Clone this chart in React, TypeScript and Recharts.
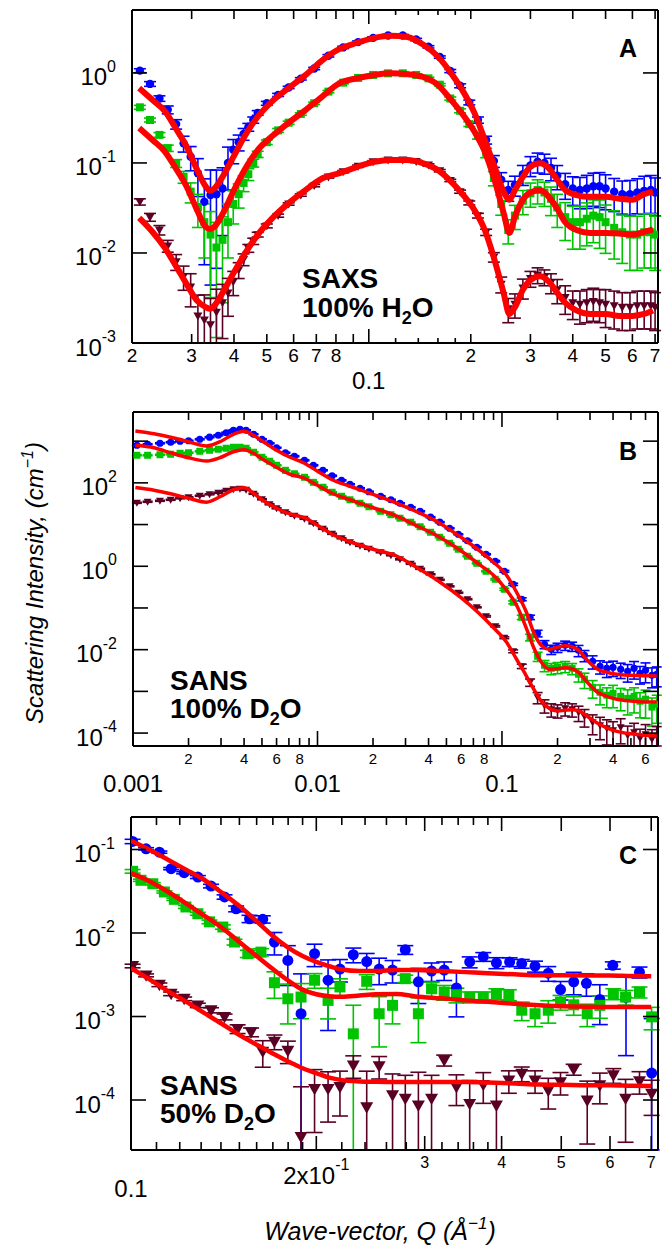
import React from 'react';
import { ComposedChart, Scatter, Line, XAxis, YAxis, ErrorBar } from 'recharts';

const BLUE = '#0000ff';
const GREEN = '#00c400';
const MAROON = '#5a0025';
const RED = '#ff0000';
const FONT = '"Liberation Sans", Arial, Helvetica, sans-serif';

// ---------- panel A : SAXS, 100% H2O ----------
const qA = [
    0.0211, 0.0226, 0.0241, 0.0255, 0.027, 0.0284, 0.0298, 0.0313, 0.0327, 0.0341,
    0.0355, 0.037, 0.0384, 0.0398, 0.0413, 0.0427, 0.0441, 0.0456, 0.047, 0.05,
    0.054, 0.058, 0.063, 0.069, 0.076, 0.084, 0.093, 0.103, 0.114, 0.126,
    0.138, 0.15, 0.162, 0.174, 0.186, 0.198, 0.21, 0.222, 0.234, 0.246,
    0.258, 0.27, 0.285, 0.3, 0.315, 0.33, 0.345, 0.36, 0.38, 0.4,
    0.42, 0.44, 0.46, 0.48, 0.5, 0.53, 0.56, 0.59, 0.62, 0.65, 0.68, 0.7,
];
const blueA = [
    1.06, 0.755, 0.52, 0.39, 0.27, 0.165, 0.117, 0.077, 0.037, 0.044,
    0.045, 0.052, 0.1, 0.14, 0.17, 0.21, 0.25, 0.3, 0.36, 0.46,
    0.57, 0.69, 0.86, 1.12, 1.55, 1.92, 2.2, 2.45, 2.6, 2.6,
    2.35, 1.95, 1.5, 1.05, 0.72, 0.47, 0.3, 0.18, 0.105, 0.065,
    0.05, 0.057, 0.075, 0.094, 0.103, 0.1, 0.088, 0.072, 0.058, 0.052,
    0.05, 0.052, 0.055, 0.055, 0.052, 0.048, 0.045, 0.045, 0.047, 0.049, 0.05, 0.047,
];
const blueErrA = [
    0.05, 0.06, 0.07, 0.1, 0.12, 0.2, 0.3, 0.45, 0.8, 0.9,
    0.85, 0.7, 0.5, 0.3, 0.2, 0.15, 0.1, 0.08, 0.06, 0.05,
    0.04, 0.03, 0.03, 0.03, 0.03, 0.03, 0.03, 0.03, 0.03, 0.03,
    0.03, 0.03, 0.03, 0.04, 0.05, 0.06, 0.08, 0.1, 0.15, 0.2,
    0.25, 0.25, 0.25, 0.25, 0.25, 0.25, 0.28, 0.3, 0.32, 0.35,
    0.38, 0.4, 0.4, 0.42, 0.42, 0.4, 0.4, 0.42, 0.42, 0.45, 0.45, 0.45,
];
const greenA = [
    0.415, 0.3, 0.205, 0.146, 0.099, 0.07, 0.048, 0.032, 0.022, 0.016,
    0.0115, 0.014, 0.022, 0.035, 0.045, 0.06, 0.075, 0.1, 0.125, 0.17,
    0.23, 0.28, 0.35, 0.46, 0.62, 0.78, 0.88, 0.95, 0.99, 0.99,
    0.95, 0.87, 0.74, 0.52, 0.38, 0.27, 0.2, 0.13, 0.068, 0.035,
    0.018, 0.026, 0.038, 0.046, 0.05, 0.047, 0.04, 0.032, 0.025, 0.022,
    0.022, 0.024, 0.026, 0.025, 0.022, 0.019, 0.017, 0.016, 0.016, 0.017, 0.017, 0.016,
];
const greenErrA = [
    0.05, 0.05, 0.06, 0.08, 0.1, 0.15, 0.25, 0.4, 0.6, 0.8,
    0.9, 0.8, 0.6, 0.4, 0.3, 0.2, 0.15, 0.1, 0.08, 0.06,
    0.05, 0.04, 0.03, 0.03, 0.03, 0.03, 0.03, 0.03, 0.03, 0.03,
    0.03, 0.03, 0.03, 0.04, 0.05, 0.06, 0.08, 0.12, 0.18, 0.25,
    0.3, 0.3, 0.3, 0.3, 0.3, 0.3, 0.35, 0.4, 0.45, 0.5,
    0.5, 0.5, 0.5, 0.55, 0.55, 0.55, 0.55, 0.6, 0.6, 0.6, 0.6, 0.6,
];
const maroonA = [
    0.037, 0.025, 0.018, 0.012, 0.008, 0.0055, 0.0042, 0.002, 0.0018, 0.0016,
    0.0022, 0.0028, 0.0036, 0.0048, 0.0065, 0.0085, 0.0113, 0.0135, 0.016, 0.02,
    0.026, 0.035, 0.044, 0.056, 0.07, 0.08, 0.092, 0.103, 0.108, 0.108,
    0.104, 0.095, 0.082, 0.064, 0.048, 0.036, 0.026, 0.017, 0.009, 0.0045,
    0.0024, 0.0027, 0.0041, 0.0052, 0.0057, 0.0054, 0.0047, 0.0039, 0.0032, 0.0028,
    0.0027, 0.0028, 0.0029, 0.0028, 0.0027, 0.0026, 0.0025, 0.0025, 0.0026, 0.0026, 0.0026, 0.0025,
];
const maroonErrA = [
    0.08, 0.1, 0.12, 0.15, 0.2, 0.3, 0.4, 0.7, 0.9, 0.95,
    0.8, 0.6, 0.45, 0.3, 0.2, 0.15, 0.1, 0.08, 0.06, 0.05,
    0.04, 0.03, 0.03, 0.03, 0.03, 0.03, 0.03, 0.03, 0.03, 0.03,
    0.03, 0.03, 0.03, 0.03, 0.04, 0.05, 0.06, 0.08, 0.12, 0.2,
    0.3, 0.3, 0.25, 0.2, 0.2, 0.2, 0.25, 0.3, 0.35, 0.35,
    0.4, 0.4, 0.4, 0.4, 0.45, 0.45, 0.45, 0.45, 0.45, 0.45, 0.45, 0.45,
];
const qFitA = [
    0.021, 0.023, 0.025, 0.027, 0.029, 0.031, 0.033, 0.034, 0.035, 0.037,
    0.04, 0.043, 0.047, 0.052, 0.058, 0.065, 0.073, 0.082, 0.092, 0.104,
    0.116, 0.13, 0.145, 0.16, 0.175, 0.19, 0.205, 0.22, 0.235, 0.25,
    0.26, 0.27, 0.285, 0.3, 0.32, 0.34, 0.36, 0.38, 0.41, 0.45,
    0.5, 0.55, 0.6, 0.65, 0.69,
];
const blueFitA = [
    0.68, 0.5, 0.376, 0.239, 0.152, 0.087, 0.055, 0.049, 0.052, 0.07,
    0.12, 0.198, 0.326, 0.49, 0.68, 0.945, 1.39, 1.85, 2.15, 2.45,
    2.58, 2.51, 2.05, 1.52, 0.99, 0.62, 0.36, 0.18, 0.091, 0.048,
    0.039, 0.05, 0.07, 0.091, 0.099, 0.087, 0.065, 0.05, 0.044, 0.042,
    0.042, 0.04, 0.039, 0.045, 0.048,
];
const greenFitA = [
    0.245, 0.18, 0.134, 0.086, 0.0547, 0.031, 0.0195, 0.0185, 0.0195, 0.027,
    0.05, 0.084, 0.139, 0.2, 0.28, 0.386, 0.55, 0.77, 0.87, 0.95,
    0.99, 0.97, 0.9, 0.735, 0.5, 0.34, 0.223, 0.134, 0.065, 0.028,
    0.0167, 0.0253, 0.039, 0.047, 0.05, 0.042, 0.031, 0.022, 0.018, 0.0167,
    0.0167, 0.0165, 0.016, 0.0172, 0.0183,
];
const maroonFitA = [
    0.0245, 0.0171, 0.0114, 0.0071, 0.0045, 0.003, 0.0025, 0.0024, 0.0026, 0.0036,
    0.0061, 0.0097, 0.0159, 0.0245, 0.0358, 0.05, 0.0676, 0.077, 0.09, 0.103,
    0.108, 0.108, 0.099, 0.0835, 0.062, 0.044, 0.03, 0.018, 0.0084, 0.0036,
    0.0021, 0.0025, 0.0039, 0.005, 0.0055, 0.0048, 0.0036, 0.0028, 0.0023, 0.0021,
    0.0021, 0.002, 0.002, 0.0021, 0.0023,
];

// ---------- panel B : SANS, 100% D2O ----------
const qB = [
    0.00105, 0.0012, 0.0014, 0.0016, 0.0018, 0.002, 0.0023, 0.0026, 0.0029, 0.0032,
    0.0035, 0.0038, 0.0041, 0.0045, 0.005, 0.0055, 0.006, 0.0067, 0.0075, 0.0085,
    0.0095, 0.0107, 0.012, 0.0135, 0.015, 0.017, 0.019, 0.022, 0.025, 0.028,
    0.032, 0.036, 0.041, 0.046, 0.052, 0.058, 0.065, 0.073, 0.082, 0.092,
    0.103, 0.115, 0.128, 0.142, 0.156, 0.17, 0.185, 0.2, 0.22, 0.24,
    0.26, 0.28, 0.31, 0.34, 0.37, 0.4, 0.44, 0.48, 0.52, 0.56,
    0.6, 0.65, 0.69,
];
const blueB = [
    797, 843, 891, 941, 995, 1023, 1110, 1242, 1385, 1590,
    1825, 1928, 1825, 1463, 1110, 891, 695, 527, 435, 348,
    264, 200, 148, 115, 92.5, 74.2, 61.2, 47.7, 39.3, 32.4,
    26, 20.8, 15, 11.4, 8.15, 5.85, 4.09, 2.86, 1.94, 1.32,
    0.759, 0.37, 0.162, 0.0598, 0.0247, 0.0135, 0.0102, 0.0114, 0.0128, 0.0121,
    0.0097, 0.00734, 0.00527, 0.004, 0.00358, 0.00378, 0.00339, 0.00303, 0.00358, 0.00272,
    0.00321, 0.00243, 0.00257,
];
const blueErrB = [
    0.03, 0.03, 0.03, 0.03, 0.03, 0.03, 0.03, 0.03, 0.03, 0.03,
    0.03, 0.03, 0.03, 0.03, 0.03, 0.03, 0.03, 0.03, 0.03, 0.03,
    0.03, 0.03, 0.03, 0.03, 0.03, 0.03, 0.03, 0.03, 0.03, 0.03,
    0.03, 0.03, 0.03, 0.03, 0.03, 0.03, 0.03, 0.03, 0.03, 0.04,
    0.05, 0.06, 0.08, 0.12, 0.18, 0.22, 0.25, 0.25, 0.25, 0.25,
    0.3, 0.3, 0.35, 0.35, 0.4, 0.4, 0.4, 0.45, 0.45, 0.45,
    0.5, 0.5, 0.5,
];
const greenB = [
    459, 459, 472, 485, 513, 527, 572, 605, 640, 676,
    714, 714, 676, 542, 411, 330, 264, 200, 165, 136,
    103, 78.4, 59.5, 47.7, 39.3, 32.4, 26.7, 20.8, 17.2, 14.2,
    11.4, 8.86, 6.54, 4.96, 3.56, 2.56, 1.74, 1.18, 0.759, 0.488,
    0.281, 0.137, 0.0598, 0.0198, 0.00695, 0.00423, 0.00358, 0.00378, 0.004, 0.00358,
    0.00257, 0.00195, 0.00125, 0.00095, 0.00081, 0.0009, 0.00076, 0.00068, 0.00076, 0.00058,
    0.00065, 0.00042, 0.00049,
];
const greenErrB = [
    0.03, 0.03, 0.03, 0.03, 0.03, 0.03, 0.03, 0.03, 0.03, 0.03,
    0.03, 0.03, 0.03, 0.03, 0.03, 0.03, 0.03, 0.03, 0.03, 0.03,
    0.03, 0.03, 0.03, 0.03, 0.03, 0.03, 0.03, 0.03, 0.03, 0.03,
    0.03, 0.03, 0.03, 0.03, 0.03, 0.03, 0.03, 0.03, 0.03, 0.04,
    0.06, 0.08, 0.12, 0.18, 0.25, 0.3, 0.3, 0.3, 0.3, 0.3,
    0.35, 0.4, 0.45, 0.5, 0.5, 0.55, 0.55, 0.6, 0.6, 0.6,
    0.65, 0.65, 0.65,
];
const maroonB = [
    33.3, 35.2, 37.2, 39.3, 42.7, 45.2, 49.1, 53.3, 57.9, 64.7,
    70.2, 72.2, 68.3, 54.8, 40.4, 30.7, 24.6, 19.7, 16.3, 13.8,
    10.7, 7.93, 6.01, 4.69, 3.76, 3.1, 2.63, 2.17, 1.84, 1.47,
    1.15, 0.871, 0.643, 0.474, 0.331, 0.232, 0.162, 0.104, 0.0632, 0.0364,
    0.0193, 0.00916, 0.004, 0.00165, 0.00072, 0.000464, 0.000372, 0.000352, 0.000394, 0.000372,
    0.000315, 0.000253, 0.000182, 0.000154, 0.00013, 0.000117, 0.000138, 0.000089, 0.000104, 0.000075,
    0.000094, 0.000071, 0.000084,
];
const maroonErrB = [
    0.03, 0.03, 0.03, 0.03, 0.03, 0.03, 0.03, 0.03, 0.03, 0.03,
    0.03, 0.03, 0.03, 0.03, 0.03, 0.03, 0.03, 0.03, 0.03, 0.03,
    0.03, 0.03, 0.03, 0.03, 0.03, 0.03, 0.03, 0.03, 0.03, 0.03,
    0.03, 0.03, 0.03, 0.03, 0.03, 0.03, 0.03, 0.03, 0.04, 0.04,
    0.05, 0.08, 0.12, 0.2, 0.3, 0.35, 0.35, 0.35, 0.35, 0.35,
    0.4, 0.45, 0.5, 0.55, 0.6, 0.6, 0.6, 0.65, 0.65, 0.65,
    0.7, 0.7, 0.7,
];
const qFitB = [
    0.00103, 0.0013, 0.0016, 0.002, 0.0025, 0.003, 0.0035, 0.004, 0.0045, 0.005,
    0.006, 0.007, 0.0085, 0.01, 0.012, 0.015, 0.02, 0.027, 0.035, 0.045,
    0.06, 0.075, 0.09, 0.105, 0.12, 0.135, 0.15, 0.165, 0.18, 0.2,
    0.22, 0.24, 0.26, 0.29, 0.33, 0.37, 0.42, 0.5, 0.6, 0.69,
];
const blueFitB = [
    1758, 1506, 1242, 968, 767, 995, 1463, 1727, 1385, 1023,
    603, 422, 295, 190, 119, 83, 53, 32.4, 19.7, 11.4,
    4.96, 2.42, 1.25, 0.645, 0.238, 0.0832, 0.0234, 0.0121, 0.0102, 0.0114,
    0.0124, 0.0117, 0.0097, 0.00557, 0.00339, 0.00288, 0.00257, 0.00243, 0.00237, 0.00234,
];
const greenFitB = [
    797, 695, 527, 400, 335, 411, 557, 622, 512, 378,
    237, 165, 129, 87.5, 56.3, 39.3, 25.3, 15.8, 9.1, 5.24,
    2.35, 1.12, 0.608, 0.28, 0.116, 0.0344, 0.0102, 0.00472, 0.00339, 0.00348,
    0.00368, 0.00348, 0.00287, 0.00165, 0.00095, 0.00076, 0.00065, 0.00059, 0.00056, 0.000557,
];
const maroonFitB = [
    77, 66.5, 54.8, 42.7, 34.3, 47.7, 68.3, 76.3, 56.3, 39.3,
    24.6, 18.2, 14.6, 9.6, 5.85, 3.87, 2.56, 1.74, 0.895, 0.449,
    0.176, 0.0746, 0.0335, 0.0159, 0.00589, 0.00243, 0.00106, 0.00055, 0.000394, 0.00034,
    0.000352, 0.000362, 0.000343, 0.000253, 0.000172, 0.000134, 0.00011, 0.000096, 0.000089, 0.000085,
];

// ---------- panel C : SANS, 50% D2O ----------
const qBlueC = [
    0.1006, 0.1058, 0.1112, 0.1162, 0.122, 0.1284, 0.1349, 0.1419, 0.1482, 0.1558,
    0.1637, 0.171, 0.1798, 0.1889, 0.1987, 0.209, 0.2185, 0.2297, 0.2415, 0.253,
    0.266, 0.279, 0.293, 0.3078, 0.3227, 0.3378, 0.355, 0.3735, 0.3923, 0.4122,
    0.4313, 0.4533, 0.4763, 0.4986, 0.5238, 0.5493, 0.5776, 0.6063, 0.637, 0.6699,
    0.7012,
];
const blueC = [
    0.125, 0.102, 0.093, 0.059, 0.0527, 0.0468, 0.0365, 0.027, 0.0195, 0.0148,
    0.0146, 0.0078, 0.0047, 0.00108, 0.00565, 0.00272, 0.0037, 0.0055, 0.00455, 0.0037,
    0.0036, 0.0063, 0.0026, 0.0035, 0.0036, 0.0022, 0.0045, 0.0052, 0.0044, 0.0045,
    0.0043, 0.004, 0.0033, 0.0021, 0.0026, 0.0025, 0.0016, 0.0041, 0.0017, 0.0034,
    0.00021,
];
const blueErrC = [
    0.06, 0.03, 0.03, 0.03, 0.03, 0.04, 0.05, 0.06, 0.08, 0.1,
    0.1, 0.3, 0.5, 2.0, 0.3, 0.75, 0.3, 0.2, 0.25, 0.35,
    0.3, 0.12, 0.45, 0.25, 0.25, 0.55, 0.15, 0.12, 0.15, 0.12,
    0.12, 0.15, 0.2, 0.25, 0.3, 0.3, 0.5, 0.1, 0.8, 0.15,
    3.5,
];
const qGreenC = [
    0.1006, 0.1038, 0.1085, 0.1133, 0.1176, 0.1228, 0.1284, 0.1341, 0.141, 0.1473,
    0.1548, 0.1626, 0.171, 0.1798, 0.1889, 0.1987, 0.209, 0.2185, 0.2297, 0.2415,
    0.253, 0.266, 0.279, 0.293, 0.3078, 0.3227, 0.3378, 0.355, 0.3735, 0.3923,
    0.411, 0.4313, 0.4533, 0.4763, 0.4986, 0.5238, 0.551, 0.5776, 0.6076, 0.636,
    0.67, 0.701,
];
const greenC = [
    0.0548, 0.0428, 0.0389, 0.031, 0.0253, 0.0205, 0.017, 0.0136, 0.0118, 0.0078,
    0.00565, 0.0059, 0.00254, 0.00163, 0.00171, 0.00272, 0.00156, 0.00226, 0.00062, 0.00264,
    0.00108, 0.00136, 0.00284, 0.00108, 0.00215, 0.00196, 0.00182, 0.00171, 0.00171, 0.00187,
    0.00182, 0.00119, 0.00108, 0.00119, 0.00149, 0.00138, 0.00108, 0.00136, 0.00187, 0.00171,
    0.00196, 0.00099,
];
const greenErrC = [
    0.05, 0.03, 0.03, 0.03, 0.03, 0.04, 0.04, 0.05, 0.06, 0.08,
    0.1, 0.1, 0.35, 0.5, 0.45, 0.2, 0.4, 0.25, 1.2, 0.2,
    0.6, 0.4, 0.1, 0.55, 0.2, 0.2, 0.2, 0.15, 0.15, 0.15,
    0.15, 0.25, 0.3, 0.3, 0.2, 0.25, 0.3, 0.3, 0.15, 0.2,
    0.15, 0.3,
];
const qMaroonC = [
    0.1006, 0.1058, 0.1112, 0.1162, 0.122, 0.1284, 0.1349, 0.1419, 0.149, 0.1567,
    0.1637, 0.171, 0.1798, 0.1889, 0.1987, 0.209, 0.2185, 0.2297, 0.2415, 0.253,
    0.266, 0.279, 0.293, 0.3078, 0.3227, 0.3378, 0.355, 0.3735, 0.3923, 0.411,
    0.4313, 0.4533, 0.4763, 0.4986, 0.5238, 0.551, 0.5776, 0.6076, 0.636, 0.67,
    0.701,
];
const maroonC = [
    0.00403, 0.00311, 0.0024, 0.00187, 0.00163, 0.00136, 0.00119, 0.00099, 0.00071, 0.00065,
    0.00038, 0.0005, 0.00039, 0.000036, 0.000136, 0.000136, 0.000143, 0.00026, 0.000082, 0.000255,
    0.000114, 0.000104, 0.000086, 0.000104, 0.0003, 0.000143, 0.00009, 0.000152, 0.000086, 0.000172,
    0.000207, 0.000172, 0.00013, 0.000164, 0.000233, 0.000099, 0.00015, 0.000198, 0.000104, 0.000168,
    0.000119,
];
const maroonErrC = [
    0.05, 0.04, 0.05, 0.05, 0.05, 0.06, 0.07, 0.08, 0.12, 0.12,
    0.35, 0.2, 0.3, 3.0, 0.7, 0.6, 0.55, 0.3, 1.7, 0.3,
    0.8, 0.9, 1.5, 0.9, 0.15, 0.4, 0.9, 0.4, 0.9, 0.3,
    0.2, 0.3, 0.4, 0.3, 0.15, 0.7, 0.4, 0.2, 0.7, 0.3,
    0.45,
];
const qFitC = [
    0.1, 0.107, 0.115, 0.123, 0.131, 0.14, 0.15, 0.16, 0.17, 0.18,
    0.19, 0.2, 0.21, 0.22, 0.235, 0.25, 0.27, 0.29, 0.32, 0.35,
    0.38, 0.42, 0.46, 0.5, 0.55, 0.6, 0.65, 0.7,
];
const blueFitC = [
    0.127, 0.1, 0.075, 0.057, 0.044, 0.031, 0.021, 0.0138, 0.0092, 0.0067,
    0.0053, 0.0045, 0.004, 0.00365, 0.0035, 0.0035, 0.0036, 0.0036, 0.0035, 0.0034,
    0.0033, 0.0032, 0.00312, 0.00311, 0.0031, 0.0031, 0.00305, 0.00303,
];
const greenFitC = [
    0.052, 0.042, 0.031, 0.0225, 0.0165, 0.0118, 0.0078, 0.0053, 0.0037, 0.0027,
    0.0021, 0.00185, 0.00175, 0.00172, 0.00178, 0.00185, 0.00186, 0.00174, 0.00165, 0.00156,
    0.0015, 0.00142, 0.00136, 0.00133, 0.00131, 0.0013, 0.0013, 0.0013,
];
const maroonFitC = [
    0.0038, 0.0028, 0.002, 0.0015, 0.00112, 0.00083, 0.0006, 0.00046, 0.00036, 0.00029,
    0.00024, 0.00021, 0.000185, 0.000173, 0.000167, 0.000165, 0.000164, 0.000164, 0.000164, 0.000164,
    0.000162, 0.000158, 0.000153, 0.000152, 0.00015, 0.00015, 0.000148, 0.000147,
];

// ---------- ticks ----------
const xTicksA = [0.02, 0.03, 0.04, 0.05, 0.06, 0.07, 0.08, 0.09, 0.1, 0.12, 0.14, 0.16, 0.18, 0.2, 0.3, 0.4, 0.5, 0.6, 0.7];
const xTicksB = [
    0.001, 0.002, 0.003, 0.004, 0.005, 0.006, 0.007, 0.008, 0.009,
    0.01, 0.02, 0.03, 0.04, 0.05, 0.06, 0.07, 0.08, 0.09,
    0.1, 0.2, 0.3, 0.4, 0.5, 0.6,
];
const xTicksC = [
    0.1, 0.11, 0.12, 0.13, 0.14, 0.15, 0.16, 0.17, 0.18, 0.19,
    0.2, 0.22, 0.24, 0.26, 0.28, 0.3, 0.32, 0.34, 0.36, 0.38,
    0.4, 0.5, 0.6, 0.7,
];
const yTicksA = [0.001, 0.01, 0.1, 1];
const yTicksB = [0.0001, 0.001, 0.01, 0.1, 1, 10, 100, 1000];
const yTicksC = [0.0001, 0.001, 0.01, 0.1];

const domA = { x: [0.02, 0.714] as [number, number], y: [0.001, 5] as [number, number] };
const domB = { x: [0.001, 0.701] as [number, number], y: [0.000049, 5000] as [number, number] };
const domC = { x: [0.1, 0.718] as [number, number], y: [0.0000252, 0.245] as [number, number] };

type Lab = { v: number; t: string; sup?: string; size: number; off: number };
type TickStyle = { major: number[]; short?: number[]; majorLen: number; minorLen: number; shortLen?: number; labels: Lab[] };

const pow = (v: number, e: string): Lab => ({ v, t: '10', sup: e, size: 24, off: 16 });
const digit = (v: number, t: string, size: number): Lab => ({ v, t, size, off: 12 });

const xStyleA: TickStyle = {
    major: [0.1], short: [0.12, 0.14, 0.16, 0.18], majorLen: 14, minorLen: 9, shortLen: 5,
    labels: [
        digit(0.02, '2', 19), digit(0.03, '3', 19), digit(0.04, '4', 19), digit(0.05, '5', 19),
        digit(0.06, '6', 19), digit(0.07, '7', 19), digit(0.08, '8', 19),
        { v: 0.1, t: '0.1', size: 24, off: 37 },
        digit(0.2, '2', 19), digit(0.3, '3', 19), digit(0.4, '4', 19), digit(0.5, '5', 19),
        digit(0.6, '6', 19), digit(0.7, '7', 19),
    ],
};
const yStyleA: TickStyle = {
    major: yTicksA, majorLen: 15, minorLen: 15,
    labels: [pow(0.001, '-3'), pow(0.01, '-2'), pow(0.1, '-1'), pow(1, '0')],
};
const xStyleB: TickStyle = {
    major: [0.001, 0.01, 0.1], majorLen: 15, minorLen: 8,
    labels: [
        { v: 0.001, t: '0.001', size: 24, off: 37 }, digit(0.002, '2', 15), digit(0.004, '4', 15),
        digit(0.006, '6', 15), digit(0.008, '8', 15),
        { v: 0.01, t: '0.01', size: 24, off: 37 }, digit(0.02, '2', 15), digit(0.04, '4', 15),
        digit(0.06, '6', 15), digit(0.08, '8', 15),
        { v: 0.1, t: '0.1', size: 24, off: 37 }, digit(0.2, '2', 15), digit(0.4, '4', 15), digit(0.6, '6', 15),
    ],
};
const yStyleB: TickStyle = {
    major: yTicksB, majorLen: 15, minorLen: 15,
    labels: [pow(0.0001, '-4'), pow(0.01, '-2'), pow(1, '0'), pow(100, '2')],
};
const xStyleC: TickStyle = {
    major: [0.1, 0.2, 0.3, 0.4, 0.5, 0.6, 0.7], majorLen: 14, minorLen: 8,
    labels: [
        { v: 0.1, t: '0.1', size: 24, off: 38 },
        { v: 0.2, t: '2x10', sup: '-1', size: 24, off: 25 },
        digit(0.3, '3', 16), digit(0.4, '4', 16), digit(0.5, '5', 16), digit(0.6, '6', 16), digit(0.7, '7', 16),
    ],
};
const yStyleC: TickStyle = {
    major: yTicksC, majorLen: 15, minorLen: 15,
    labels: [pow(0.0001, '-4'), pow(0.001, '-3'), pow(0.01, '-2'), pow(0.1, '-1')],
};

const near = (a: number, b: number) => Math.abs(a - b) <= Math.abs(b) * 1e-6;

type Side = 'bottom' | 'top' | 'left' | 'right';

// draws the inward tick line and (optionally) the label outside the box
const makeTick = (side: Side, st: TickStyle, withLabel: boolean) => (props: any) => {
    const { x, y, payload } = props;
    const v = Number(payload.value);
    const len = st.major.some((m) => near(v, m))
        ? st.majorLen
        : st.short && st.short.some((m) => near(v, m))
            ? st.shortLen ?? st.minorLen
            : st.minorLen;
    const lab = withLabel ? st.labels.find((l) => near(v, l.v)) : undefined;
    let x2 = x;
    let y2 = y;
    if (side === 'bottom') y2 = y - len;
    if (side === 'top') y2 = y + len;
    if (side === 'left') x2 = x + len;
    if (side === 'right') x2 = x - len;
    const isLeft = side === 'left';
    return (
        <g>
            <line x1={x} y1={y} x2={x2} y2={y2} stroke="#000" strokeWidth={1.6} />
            {lab && (
                <text
                    x={isLeft ? x - lab.off : x}
                    y={isLeft ? y + 4 : y + lab.off}
                    textAnchor={isLeft ? 'end' : 'middle'}
                    dominantBaseline="central"
                    fontSize={lab.size}
                    fontFamily={FONT}
                    fill="#000"
                >
                    {lab.t}
                    {lab.sup && (
                        <tspan dy={-lab.size * 0.45} fontSize={Math.round(lab.size * 0.68)}>
                            {lab.sup}
                        </tspan>
                    )}
                </text>
            )}
        </g>
    );
};

// ---------- series helpers ----------
type Pt = { q: number; i: number; e: [number, number] };

// error bars are cut at the plot box (the library does not clip them)
const toPts = (q: number[], v: number[], err: number[], yDom: [number, number]): Pt[] =>
    q.map((x, k) => {
        const lo = Math.min(v[k] * err[k], v[k] - yDom[0]);
        const hi = Math.min(v[k] * err[k], yDom[1] - v[k]);
        return { q: x, i: v[k], e: [Math.max(lo, 0), Math.max(hi, 0)] };
    });

const toLine = (q: number[], v: number[]) => q.map((x, k) => ({ q: x, i: v[k] }));

const dotShape = (r: number, c: string) => (p: any) => <circle cx={p.cx} cy={p.cy} r={r} fill={c} />;
const squareShape = (s: number, c: string) => (p: any) => (
    <rect x={p.cx - s / 2} y={p.cy - s / 2} width={s} height={s} fill={c} />
);
const triShape = (s: number, c: string) => (p: any) => (
    <path
        d={`M${p.cx - s / 2},${p.cy - s * 0.38}L${p.cx + s / 2},${p.cy - s * 0.38}L${p.cx},${p.cy + s * 0.5}Z`}
        fill={c}
    />
);

interface SeriesDef {
    data: Pt[];
    color: string;
    shape: (p: any) => React.ReactElement;
}

interface PanelProps {
    top: number;
    height: number;
    margin: { top: number; right: number; bottom: number; left: number };
    xDomain: [number, number];
    yDomain: [number, number];
    xTicks: number[];
    yTicks: number[];
    xStyle: TickStyle;
    yStyle: TickStyle;
    series: SeriesDef[];
    fits: { q: number; i: number }[][];
    fitWidth: number;
    capWidth: number;
}

function Panel({ top, height, margin, xDomain, yDomain, xTicks, yTicks, xStyle, yStyle, series, fits, fitWidth, capWidth }: PanelProps) {
    const axisLine = { stroke: '#000', strokeWidth: 2 };
    return (
        <div style={{ position: 'absolute', left: 0, top, width: 662, height }}>
            <ComposedChart width={662} height={height} margin={margin}>
                <XAxis
                    xAxisId="b" dataKey="q" type="number" scale="log" domain={xDomain} allowDataOverflow
                    ticks={xTicks} interval={0} height={1} tickSize={0} tickMargin={0} tickLine={false}
                    axisLine={axisLine} tick={makeTick('bottom', xStyle, true)}
                />
                <XAxis
                    xAxisId="t" orientation="top" dataKey="q" type="number" scale="log" domain={xDomain} allowDataOverflow
                    ticks={xTicks} interval={0} height={1} tickSize={0} tickMargin={0} tickLine={false}
                    axisLine={axisLine} tick={makeTick('top', xStyle, false)}
                />
                <YAxis
                    yAxisId="l" dataKey="i" type="number" scale="log" domain={yDomain} allowDataOverflow
                    ticks={yTicks} interval={0} width={1} tickSize={0} tickMargin={0} tickLine={false}
                    axisLine={axisLine} tick={makeTick('left', yStyle, true)}
                />
                <YAxis
                    yAxisId="r" orientation="right" dataKey="i" type="number" scale="log" domain={yDomain} allowDataOverflow
                    ticks={yTicks} interval={0} width={1} tickSize={0} tickMargin={0} tickLine={false}
                    axisLine={axisLine} tick={makeTick('right', yStyle, false)}
                />
                {series.map((s, k) => (
                    <Scatter key={'s' + k} xAxisId="b" yAxisId="l" data={s.data} shape={s.shape} isAnimationActive={false}>
                        <ErrorBar dataKey="e" direction="y" width={capWidth} stroke={s.color} strokeWidth={1.6} isAnimationActive={false} />
                    </Scatter>
                ))}
                {fits.map((f, k) => (
                    <Line
                        key={'f' + k} xAxisId="b" yAxisId="l" data={f} dataKey="i" type="monotone"
                        stroke={RED} strokeWidth={fitWidth} dot={false} activeDot={false}
                        isAnimationActive={false} zIndex={700}
                    />
                ))}
            </ComposedChart>
        </div>
    );
}

export default function App() {
    const seriesA: SeriesDef[] = [
        { data: toPts(qA, blueA, blueErrA, domA.y), color: BLUE, shape: dotShape(4.2, BLUE) },
        { data: toPts(qA, greenA, greenErrA, domA.y), color: GREEN, shape: squareShape(8, GREEN) },
        { data: toPts(qA, maroonA, maroonErrA, domA.y), color: MAROON, shape: triShape(9, MAROON) },
    ];
    const seriesB: SeriesDef[] = [
        { data: toPts(qB, blueB, blueErrB, domB.y), color: BLUE, shape: dotShape(3.6, BLUE) },
        { data: toPts(qB, greenB, greenErrB, domB.y), color: GREEN, shape: squareShape(7, GREEN) },
        { data: toPts(qB, maroonB, maroonErrB, domB.y), color: MAROON, shape: triShape(8, MAROON) },
    ];
    const seriesC: SeriesDef[] = [
        { data: toPts(qBlueC, blueC, blueErrC, domC.y), color: BLUE, shape: dotShape(5.5, BLUE) },
        { data: toPts(qGreenC, greenC, greenErrC, domC.y), color: GREEN, shape: squareShape(11, GREEN) },
        { data: toPts(qMaroonC, maroonC, maroonErrC, domC.y), color: MAROON, shape: triShape(13, MAROON) },
    ];

    return (
        <div style={{ position: 'absolute', left: 0, top: 0, width: 662, height: 1251, background: '#fff' }}>
            <Panel
                top={0} height={395} margin={{ top: 9, right: 3, bottom: 51, left: 131 }}
                xDomain={domA.x} yDomain={domA.y}
                xTicks={xTicksA} yTicks={yTicksA} xStyle={xStyleA} yStyle={yStyleA}
                series={seriesA}
                fits={[toLine(qFitA, blueFitA), toLine(qFitA, greenFitA), toLine(qFitA, maroonFitA)]}
                fitWidth={6} capWidth={6}
            />
            <Panel
                top={395} height={415} margin={{ top: 16, right: 3, bottom: 63, left: 132 }}
                xDomain={domB.x} yDomain={domB.y}
                xTicks={xTicksB} yTicks={yTicksB} xStyle={xStyleB} yStyle={yStyleB}
                series={seriesB}
                fits={[toLine(qFitB, blueFitB), toLine(qFitB, greenFitB), toLine(qFitB, maroonFitB)]}
                fitWidth={3.5} capWidth={5}
            />
            <Panel
                top={810} height={441} margin={{ top: 6, right: 3, bottom: 100, left: 130 }}
                xDomain={domC.x} yDomain={domC.y}
                xTicks={xTicksC} yTicks={yTicksC} xStyle={xStyleC} yStyle={yStyleC}
                series={seriesC}
                fits={[toLine(qFitC, blueFitC), toLine(qFitC, greenFitC), toLine(qFitC, maroonFitC)]}
                fitWidth={4.5} capWidth={8}
            />
            <svg
                width={662} height={1251}
                style={{ position: 'absolute', left: 0, top: 0, pointerEvents: 'none' }}
                fontFamily={FONT}
            >
                <g fontWeight="bold" fontSize={25} textAnchor="middle">
                    <text x={628} y={57}>A</text>
                    <text x={628} y={460}>B</text>
                    <text x={628} y={864}>C</text>
                </g>
                <g fontWeight="bold" fontSize={28}>
                    <text x={302} y={288}>SAXS</text>
                    <text x={302} y={317}>
                        100% H<tspan dy={7} fontSize={18}>2</tspan><tspan dy={-7}>O</tspan>
                    </text>
                    <text x={170} y={690}>SANS</text>
                    <text x={170} y={718}>
                        100% D<tspan dy={7} fontSize={18}>2</tspan><tspan dy={-7}>O</tspan>
                    </text>
                    <text x={160} y={1095}>SANS</text>
                    <text x={160} y={1123}>
                        50% D<tspan dy={7} fontSize={18}>2</tspan><tspan dy={-7}>O</tspan>
                    </text>
                </g>
                <text x={43} y={583} transform="rotate(-90 43 583)" textAnchor="middle" fontStyle="italic" fontSize={24}>
                    Scattering Intensity, (cm<tspan dy={-10} fontSize={16}>−1</tspan><tspan dy={10}>)</tspan>
                </text>
                <text x={380} y={1240} textAnchor="middle" fontStyle="italic" fontSize={25}>
                    Wave-vector, Q (Å<tspan dy={-11} fontSize={17}>−1</tspan><tspan dy={11}>)</tspan>
                </text>
            </svg>
        </div>
    );
}
